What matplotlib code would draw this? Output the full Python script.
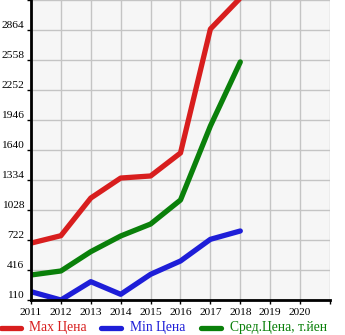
import matplotlib.pyplot as plt
from matplotlib.lines import Line2D

plt.rcParams['font.family'] = ['Liberation Serif', 'DejaVu Serif']

years = [2011, 2012, 2013, 2014, 2015, 2016, 2017, 2018]
max_price = [690, 766, 1150, 1354, 1375, 1610, 2874, 3190]
min_price = [195, 110, 297, 168, 372, 508, 729, 814]
avg_price = [365, 406, 603, 763, 885, 1130, 1885, 2538]

y_ticks = [110, 416, 722, 1028, 1334, 1640, 1946, 2252, 2558, 2864]
x_labels = ['2011', '2012', '2013', '2014', '2015', '2016', '2017', '2018', '2019', '2020']

red = '#d81e1e'
blue = '#1e1ed8'
green = '#0a800a'

fig = plt.figure(figsize=(3.45, 3.35), dpi=100)
ax = fig.add_axes([31 / 345, 35 / 335, 299 / 345, 300 / 335])
ax.set_facecolor('#f6f6f6')

lw = 3.8
ax.plot(years, max_price, color=red, lw=lw, solid_capstyle='round', solid_joinstyle='round')
ax.plot(years, min_price, color=blue, lw=lw, solid_capstyle='round', solid_joinstyle='round')
ax.plot(years, avg_price, color=green, lw=lw, solid_capstyle='round', solid_joinstyle='round')

ax.set_xlim(2011, 2021)
ax.set_ylim(110, 3170)

ax.set_yticks(y_ticks + [3170])
ax.set_yticklabels([str(v) for v in y_ticks] + [''], fontsize=8.2)
for lab in ax.get_yticklabels():
    lab.set_va('bottom')
ax.set_xticks(range(2011, 2022))
ax.set_xticklabels(x_labels + [''], fontsize=8.2)

ax.grid(True, color='#c4c4c4', lw=1)
ax.set_axisbelow(True)
ax.tick_params(axis='y', length=3, width=1, pad=2)
ax.tick_params(axis='x', length=3, width=1, pad=3)

for side in ['top', 'right']:
    ax.spines[side].set_visible(False)
for side in ['left', 'bottom']:
    ax.spines[side].set_linewidth(2)
    ax.spines[side].set_color('black')

# legend row under the axes
legend_items = [
    ('Max Цена', red, 0 / 345, 29 / 345),
    ('Min Цена', blue, 100 / 345, 130 / 345),
    ('Сред.Цена, т.йен', green, 200 / 345, 230 / 345),
]
ly = 1 - 328 / 335
for label, color, x0, tx in legend_items:
    fig.add_artist(Line2D([x0 + 1 / 345, x0 + 21 / 345], [ly, ly], color=color, lw=lw,
                          solid_capstyle='round', transform=fig.transFigure))
    fig.text(tx, ly, label, color=color, fontsize=9.8, va='center', ha='left')

fig.savefig('out.png', dpi=100)
